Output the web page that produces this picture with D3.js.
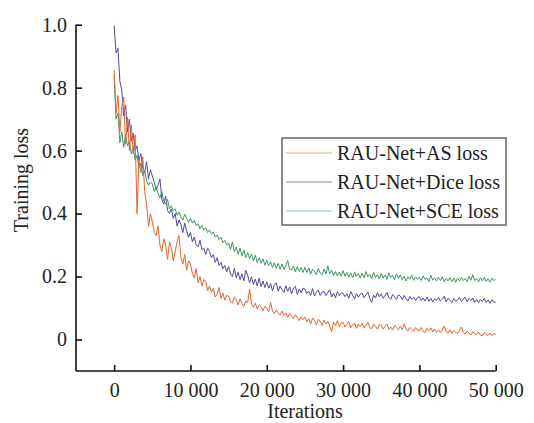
<!DOCTYPE html>
<html><head><meta charset="utf-8">
<script src="https://cdn.jsdelivr.net/npm/d3@7"></script>
<style>body{margin:0;background:#fff}svg{display:block}
svg text{font-family:"Liberation Serif","Tinos","DejaVu Serif",serif !important;}</style>
</head><body>
<svg id="c" width="534" height="423"></svg>
<script>
const iterStep = 250;
const seriesNames = ["RAU-Net+AS loss", "RAU-Net+Dice loss", "RAU-Net+SCE loss"];
const xTicks = [0, 10000, 20000, 30000, 40000, 50000];
const xTickLabels = ["0", "10 000", "20 000", "30 000", "40 000", "50 000"];
const yTicks = [0, 0.2, 0.4, 0.6, 0.8, 1.0];
const yTickLabels = ["0", "0.2", "0.4", "0.6", "0.8", "1.0"];

const asLoss = [
0.856,0.72,0.775,0.66,0.74,0.77,0.62,0.705,0.60,0.68,
0.59,0.65,0.40,0.57,0.53,0.58,0.47,0.43,0.36,0.40,
0.375,0.34,0.33,0.36,0.30,0.28,0.32,0.30,0.255,0.31,
0.29,0.25,0.28,0.31,0.33,0.26,0.24,0.27,0.22,0.25,
0.24,0.21,0.195,0.225,0.18,0.20,0.17,0.19,0.185,0.155,
0.17,0.15,0.162,0.135,0.145,0.165,0.13,0.148,0.125,0.14,
0.138,0.12,0.115,0.135,0.128,0.11,0.13,0.115,0.105,0.122,
0.118,0.16,0.112,0.102,0.115,0.098,0.11,0.104,0.092,0.105,
0.1,0.088,0.118,0.09,0.082,0.095,0.084,0.078,0.09,0.076,
0.084,0.07,0.082,0.075,0.066,0.078,0.07,0.06,0.072,0.063,
0.072,0.056,0.066,0.05,0.068,0.061,0.047,0.064,0.058,0.045,
0.062,0.049,0.057,0.043,0.025,0.055,0.044,0.06,0.04,0.052,
0.055,0.04,0.048,0.058,0.037,0.046,0.053,0.035,0.049,0.041,
0.051,0.036,0.045,0.055,0.038,0.034,0.049,0.042,0.033,0.047,
0.046,0.033,0.042,0.05,0.032,0.04,0.03,0.045,0.037,0.031,
0.042,0.031,0.049,0.034,0.027,0.039,0.032,0.026,0.038,0.03,
0.027,0.038,0.026,0.022,0.036,0.028,0.037,0.024,0.033,0.023,
0.031,0.022,0.03,0.043,0.025,0.02,0.031,0.019,0.028,0.023,
0.019,0.028,0.04,0.023,0.017,0.027,0.021,0.014,0.025,0.018,
0.016,0.024,0.014,0.012,0.022,0.016,0.013,0.021,0.012,0.019,0.016
];
const diceLoss = [
0.997,0.91,0.925,0.82,0.79,0.71,0.745,0.66,0.70,0.63,
0.655,0.6,0.615,0.57,0.59,0.545,0.53,0.565,0.51,0.54,
0.52,0.5,0.475,0.49,0.51,0.445,0.43,0.455,0.41,0.4,
0.415,0.385,0.4,0.36,0.38,0.365,0.34,0.37,0.345,0.325,
0.34,0.31,0.325,0.3,0.295,0.315,0.285,0.29,0.27,0.29,
0.28,0.26,0.27,0.245,0.26,0.235,0.245,0.225,0.235,0.215,
0.232,0.208,0.2,0.226,0.196,0.214,0.19,0.209,0.186,0.22,
0.203,0.18,0.199,0.175,0.192,0.17,0.195,0.168,0.186,0.165,
0.183,0.163,0.178,0.155,0.174,0.18,0.153,0.17,0.158,0.15,
0.171,0.153,0.167,0.145,0.163,0.169,0.143,0.16,0.148,0.163,
0.16,0.146,0.154,0.14,0.162,0.138,0.15,0.157,0.14,0.151,
0.153,0.14,0.149,0.158,0.135,0.147,0.132,0.152,0.139,0.148,
0.147,0.136,0.145,0.131,0.153,0.14,0.129,0.146,0.134,0.144,
0.147,0.133,0.142,0.151,0.131,0.118,0.141,0.132,0.149,0.136,
0.145,0.131,0.14,0.15,0.133,0.128,0.143,0.135,0.127,0.142,
0.138,0.127,0.14,0.13,0.122,0.137,0.128,0.134,0.124,0.133,
0.136,0.124,0.132,0.122,0.135,0.121,0.131,0.119,0.129,0.124,
0.133,0.122,0.128,0.137,0.12,0.131,0.125,0.117,0.13,0.122,
0.126,0.134,0.121,0.128,0.135,0.12,0.13,0.124,0.132,0.118,
0.127,0.117,0.128,0.121,0.131,0.118,0.126,0.115,0.127,0.12,0.118
];
const sceLoss = [
0.838,0.70,0.72,0.625,0.66,0.61,0.65,0.615,0.63,0.59,
0.61,0.57,0.585,0.545,0.56,0.52,0.535,0.505,0.49,0.5,
0.495,0.47,0.485,0.465,0.45,0.47,0.44,0.43,0.445,0.415,
0.425,0.41,0.415,0.395,0.405,0.39,0.38,0.398,0.385,0.372,
0.385,0.37,0.378,0.362,0.368,0.352,0.362,0.348,0.355,0.34,
0.348,0.335,0.342,0.325,0.332,0.318,0.325,0.308,0.315,0.3,
0.306,0.286,0.31,0.279,0.294,0.271,0.29,0.266,0.284,0.26,
0.276,0.257,0.272,0.25,0.268,0.245,0.26,0.242,0.256,0.236,
0.252,0.234,0.247,0.228,0.244,0.226,0.242,0.223,0.24,0.222,
0.236,0.251,0.222,0.221,0.234,0.215,0.231,0.216,0.229,0.213,
0.229,0.213,0.228,0.208,0.223,0.216,0.206,0.226,0.211,0.205,
0.224,0.208,0.234,0.209,0.22,0.203,0.216,0.202,0.214,0.201,
0.219,0.201,0.213,0.198,0.211,0.196,0.215,0.2,0.209,0.195,
0.211,0.196,0.216,0.199,0.207,0.193,0.213,0.197,0.206,0.192,
0.21,0.195,0.205,0.191,0.212,0.197,0.204,0.19,0.209,0.194,
0.205,0.19,0.201,0.186,0.199,0.192,0.204,0.188,0.198,0.191,
0.198,0.187,0.202,0.19,0.196,0.184,0.204,0.189,0.195,0.186,
0.198,0.187,0.199,0.183,0.194,0.186,0.197,0.184,0.195,0.182,
0.195,0.186,0.197,0.187,0.194,0.184,0.2,0.188,0.206,0.187,
0.194,0.183,0.196,0.186,0.197,0.184,0.193,0.182,0.195,0.187,0.192
];

const lineColors = ["#E8622E", "#4E4A9E", "#3E9660"];
const legendColors = ["#F0A07A", "#8080CC", "#8CCCA8"];
const seriesData = [asLoss, diceLoss, sceLoss];

const svg = d3.select("#c");
const font = "Liberation Serif";
const fs = 20;
const x = d3.scaleLinear().domain([-5000, 50000]).range([76, 495.7]);
const y = d3.scaleLinear().domain([-0.1, 1.0]).range([371, 24.7]);

const line = d3.line().x((d, i) => x(i * iterStep)).y(d => y(d));
const drawOrder = [1, 2, 0];
drawOrder.forEach(k => {
  svg.append("path").datum(seriesData[k])
    .attr("fill", "none").attr("stroke", lineColors[k])
    .attr("stroke-width", 1).attr("stroke-linejoin", "round")
    .attr("d", line);
});

const xAxis = d3.axisBottom(x).tickValues(xTicks).tickSize(-6).tickPadding(12)
  .tickFormat((d, i) => xTickLabels[i]);
const gx = svg.append("g").attr("transform", "translate(0,371)").call(xAxis);
const yAxis = d3.axisLeft(y).tickValues(yTicks).tickSize(-6).tickPadding(9)
  .tickFormat((d, i) => yTickLabels[i]);
const gy = svg.append("g").attr("transform", "translate(76,0)").call(yAxis);
[gx, gy].forEach(g => {
  g.attr("font-family", font).attr("font-size", fs);
  g.select(".domain").attr("stroke", "#111").attr("stroke-width", 1.6);
  g.selectAll(".tick line").attr("stroke", "#111").attr("stroke-width", 1.6);
  g.selectAll("text").attr("fill", "#222");
});
gx.select(".domain").attr("d", "M76,0H495.7");
gy.select(".domain").attr("d", "M0,24.7V371");

svg.append("text").attr("x", 305).attr("y", 418).attr("text-anchor", "middle")
  .attr("font-family", font).attr("font-size", fs).attr("fill", "#222").text("Iterations");
svg.append("text").attr("transform", "translate(28,180) rotate(-90)").attr("text-anchor", "middle")
  .attr("font-family", font).attr("font-size", fs).attr("fill", "#222").text("Training loss");

const lg = svg.append("g");
lg.append("rect").attr("x", 282).attr("y", 138).attr("width", 224).attr("height", 87)
  .attr("fill", "#fff").attr("stroke", "#666").attr("stroke-width", 1.5);
seriesNames.forEach((n, i) => {
  const cy = 153 + i * 29;
  lg.append("line").attr("x1", 286).attr("x2", 332).attr("y1", cy).attr("y2", cy)
    .attr("stroke", legendColors[i]).attr("stroke-width", 1.2);
  lg.append("text").attr("x", 337).attr("y", cy + 6.5).attr("font-family", font)
    .attr("font-size", fs).attr("fill", "#222").text(n);
});
</script>
</body></html>
